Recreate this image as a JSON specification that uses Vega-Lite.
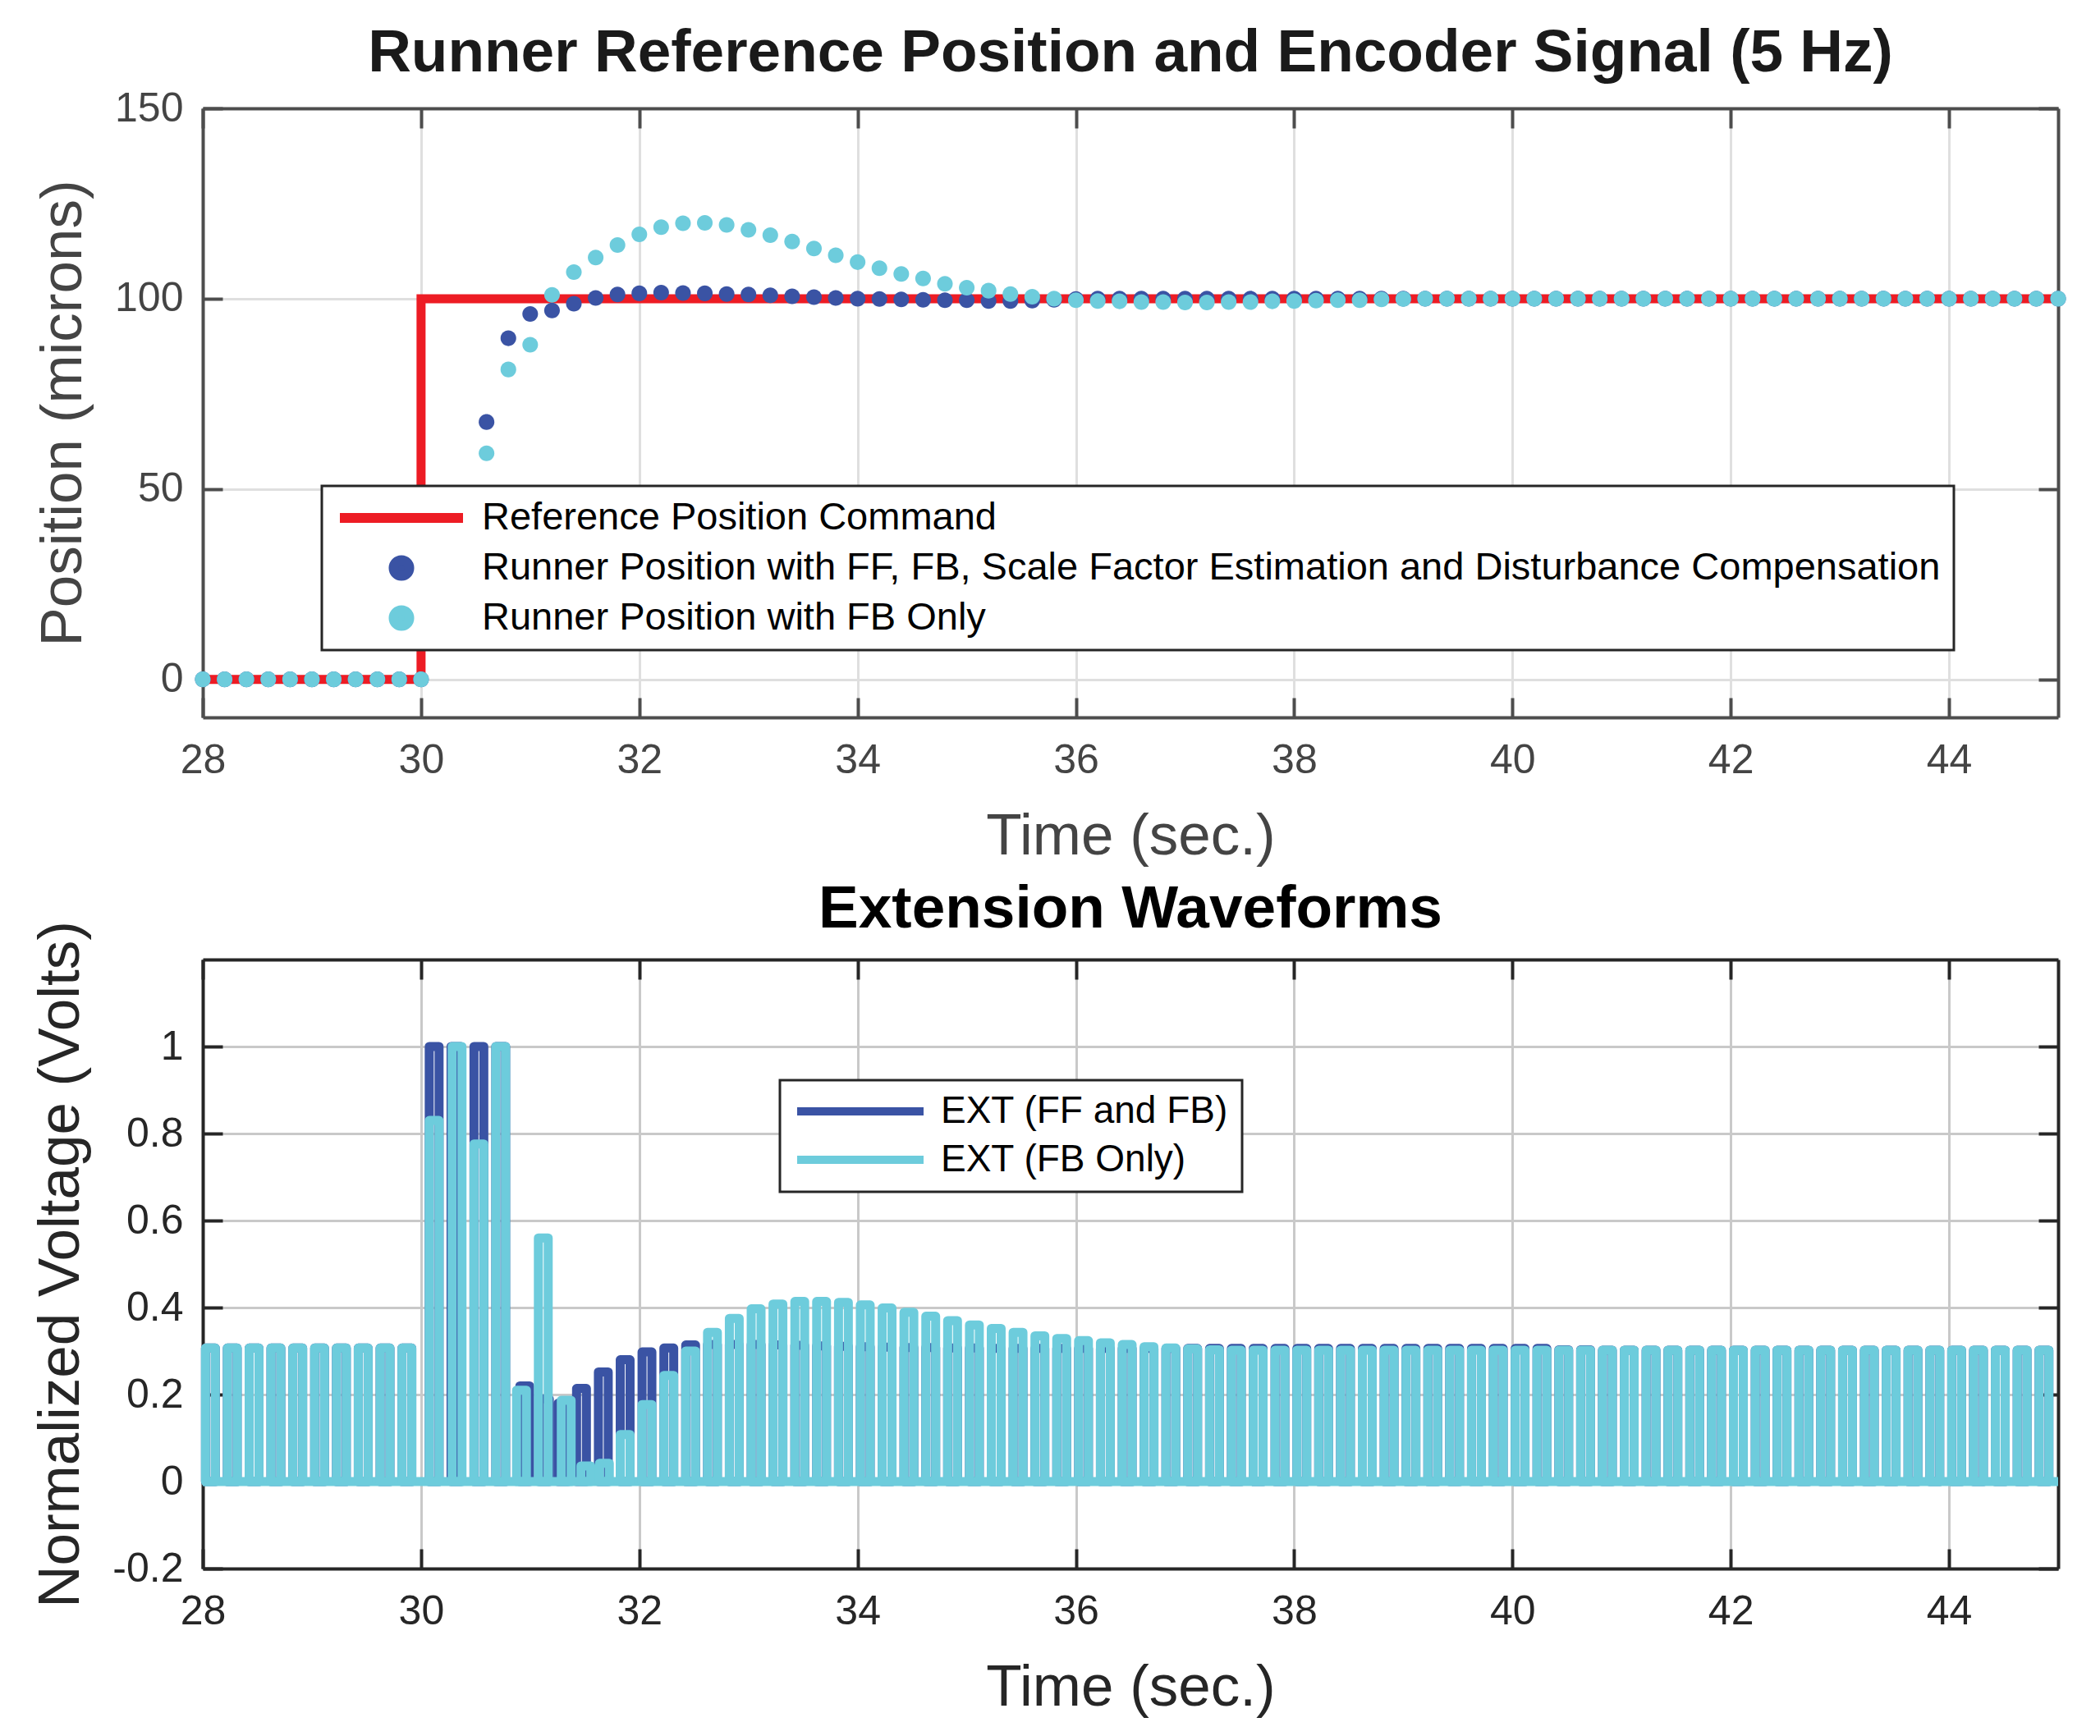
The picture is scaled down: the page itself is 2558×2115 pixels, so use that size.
{
  "$schema": "https://vega.github.io/schema/vega-lite/v6.json",
  "background": "white",
  "padding": {"left": 38, "top": 29, "right": 50, "bottom": 10},
  "spacing": 295,
  "bounds": "flush",
  "resolve": {"scale": {"color": "independent"}, "legend": {"color": "independent"}},
  "config": {
    "font": "Liberation Sans",
    "view": {"stroke": null},
    "axis": {"labelFont": "Liberation Sans", "titleFont": "Liberation Sans"},
    "legend": {"labelFont": "Liberation Sans"}
  },
  "vconcat": [
    {
      "width": 2260,
      "height": 742,
      "title": {"text": "Runner Reference Position and Encoder Signal (5 Hz)", "fontSize": 73, "font": "Liberation Sans", "fontWeight": "bold", "color": "#1A1A1A", "frame": "group", "offset": 5},
      "layer": [
        {
          "data": {"values": [
            {"t": 28, "s": "REF", "v": 0},
            {"t": 30, "s": "REF", "v": 100},
            {"t": 45, "s": "REF", "v": 100}
          ]},
          "mark": {"type": "line", "interpolate": "step-after", "strokeWidth": 11},
          "encoding": {
            "x": {"field": "t", "type": "quantitative", "scale": {"domain": [28, 45], "nice": false, "zero": false},
              "axis": {"orient": "bottom", "values": [28, 30, 32, 34, 36, 38, 40, 42, 44], "title": "Time (sec.)", "grid": true, "gridColor": "#DFDFDF", "gridWidth": 3, "domainColor": "#4D4D4D", "domainWidth": 4, "tickColor": "#4D4D4D", "tickWidth": 4, "tickSize": -24, "labelPadding": 51, "labelFlush": false, "labelFontSize": 50, "labelColor": "#444444", "titleFontSize": 71, "titleFontWeight": "normal", "titleColor": "#444444", "titlePadding": 33}},
            "y": {"field": "v", "type": "quantitative", "scale": {"domain": [-10, 150], "nice": false, "zero": false},
              "axis": {"orient": "left", "values": [0, 50, 100, 150], "title": "Position (microns)", "grid": true, "gridColor": "#DFDFDF", "gridWidth": 3, "domainColor": "#4D4D4D", "domainWidth": 4, "tickColor": "#4D4D4D", "tickWidth": 4, "tickSize": -24, "labelPadding": 48, "labelFontSize": 50, "labelColor": "#444444", "titleFontSize": 71, "titleFontWeight": "normal", "titleColor": "#444444", "titlePadding": 26}},
            "color": {"field": "s", "type": "nominal",
              "scale": {"domain": ["REF", "FF", "FB"], "range": ["#ED1C24", "#3A53A4", "#6DCCDC"]},
              "legend": {
                "orient": "none", "legendX": 145, "legendY": 460, "title": null,
                "labelExpr": "datum.label == 'REF' ? 'Reference Position Command' : datum.label == 'FF' ? 'Runner Position with FF, FB, Scale Factor Estimation and Disturbance Compensation' : 'Runner Position with FB Only'",
                "symbolType": "stroke", "symbolSize": 22500, "symbolStrokeWidth": 12,
                "padding": 16, "clipHeight": 46, "rowPadding": 14, "labelOffset": 17, "symbolOffset": 0,
                "labelFontSize": 47, "labelColor": "#000000", "labelLimit": 3000,
                "fillColor": "#FFFFFF", "strokeColor": "#262626",
                "encode": {
                  "legend": {"update": {"strokeWidth": {"value": 3}}},
                  "symbols": {"update": {
                    "shape": {"signal": "datum.value === 'REF' ? 'stroke' : 'M0.127,0A0.127,0.127,0,1,1,-0.127,0A0.127,0.127,0,1,1,0.127,0Z'"},
                    "stroke": {"signal": "datum.value === 'REF' ? '#ED1C24' : 'transparent'"},
                    "fill": {"signal": "datum.value === 'REF' ? 'transparent' : datum.value === 'FF' ? '#3A53A4' : '#6DCCDC'"},
                    "opacity": {"value": 1}
                  }}
                }
              }}
          }
        },
        {
          "data": {"values": [
            {"t": 28, "s": "FF", "v": 0}, {"t": 28.2, "s": "FF", "v": 0}, {"t": 28.4, "s": "FF", "v": 0}, {"t": 28.6, "s": "FF", "v": 0},
            {"t": 28.8, "s": "FF", "v": 0}, {"t": 29, "s": "FF", "v": 0}, {"t": 29.2, "s": "FF", "v": 0}, {"t": 29.4, "s": "FF", "v": 0},
            {"t": 29.6, "s": "FF", "v": 0}, {"t": 29.8, "s": "FF", "v": 0}, {"t": 30, "s": "FF", "v": 0},
            {"t": 30.2, "s": "FF", "v": 18}, {"t": 30.4, "s": "FF", "v": 45}, {"t": 30.6, "s": "FF", "v": 67.6}, {"t": 30.8, "s": "FF", "v": 89.6},
            {"t": 31, "s": "FF", "v": 96.0}, {"t": 31.2, "s": "FF", "v": 96.9}, {"t": 31.4, "s": "FF", "v": 98.7}, {"t": 31.6, "s": "FF", "v": 100.2},
            {"t": 31.8, "s": "FF", "v": 101.1}, {"t": 32, "s": "FF", "v": 101.4}, {"t": 32.2, "s": "FF", "v": 101.6}, {"t": 32.4, "s": "FF", "v": 101.5},
            {"t": 32.6, "s": "FF", "v": 101.4}, {"t": 32.8, "s": "FF", "v": 101.2}, {"t": 33, "s": "FF", "v": 101.1}, {"t": 33.2, "s": "FF", "v": 100.9},
            {"t": 33.4, "s": "FF", "v": 100.6}, {"t": 33.6, "s": "FF", "v": 100.4}, {"t": 33.8, "s": "FF", "v": 100.2}, {"t": 34, "s": "FF", "v": 100.0},
            {"t": 34.2, "s": "FF", "v": 99.9}, {"t": 34.4, "s": "FF", "v": 99.8}, {"t": 34.6, "s": "FF", "v": 99.7}, {"t": 34.8, "s": "FF", "v": 99.6},
            {"t": 35, "s": "FF", "v": 99.6}, {"t": 35.2, "s": "FF", "v": 99.4}, {"t": 35.4, "s": "FF", "v": 99.4}, {"t": 35.6, "s": "FF", "v": 99.5},
            {"t": 35.8, "s": "FF", "v": 99.7}, {"t": 36, "s": "FF", "v": 99.9},
            {"t": 36.2, "s": "FF", "v": 100}, {"t": 36.4, "s": "FF", "v": 100}, {"t": 36.6, "s": "FF", "v": 100}, {"t": 36.8, "s": "FF", "v": 100},
            {"t": 37, "s": "FF", "v": 100}, {"t": 37.2, "s": "FF", "v": 100}, {"t": 37.4, "s": "FF", "v": 100}, {"t": 37.6, "s": "FF", "v": 100},
            {"t": 37.8, "s": "FF", "v": 100}, {"t": 38, "s": "FF", "v": 100}, {"t": 38.2, "s": "FF", "v": 100}, {"t": 38.4, "s": "FF", "v": 100},
            {"t": 38.6, "s": "FF", "v": 100}, {"t": 38.8, "s": "FF", "v": 100}, {"t": 39, "s": "FF", "v": 100}, {"t": 39.2, "s": "FF", "v": 100},
            {"t": 39.4, "s": "FF", "v": 100}, {"t": 39.6, "s": "FF", "v": 100}, {"t": 39.8, "s": "FF", "v": 100}, {"t": 40, "s": "FF", "v": 100},
            {"t": 40.2, "s": "FF", "v": 100}, {"t": 40.4, "s": "FF", "v": 100}, {"t": 40.6, "s": "FF", "v": 100}, {"t": 40.8, "s": "FF", "v": 100},
            {"t": 41, "s": "FF", "v": 100}, {"t": 41.2, "s": "FF", "v": 100}, {"t": 41.4, "s": "FF", "v": 100}, {"t": 41.6, "s": "FF", "v": 100},
            {"t": 41.8, "s": "FF", "v": 100}, {"t": 42, "s": "FF", "v": 100}, {"t": 42.2, "s": "FF", "v": 100}, {"t": 42.4, "s": "FF", "v": 100},
            {"t": 42.6, "s": "FF", "v": 100}, {"t": 42.8, "s": "FF", "v": 100}, {"t": 43, "s": "FF", "v": 100}, {"t": 43.2, "s": "FF", "v": 100},
            {"t": 43.4, "s": "FF", "v": 100}, {"t": 43.6, "s": "FF", "v": 100}, {"t": 43.8, "s": "FF", "v": 100}, {"t": 44, "s": "FF", "v": 100},
            {"t": 44.2, "s": "FF", "v": 100}, {"t": 44.4, "s": "FF", "v": 100}, {"t": 44.6, "s": "FF", "v": 100}, {"t": 44.8, "s": "FF", "v": 100},
            {"t": 45, "s": "FF", "v": 100},
            {"t": 28, "s": "FB", "v": 0}, {"t": 28.2, "s": "FB", "v": 0}, {"t": 28.4, "s": "FB", "v": 0}, {"t": 28.6, "s": "FB", "v": 0},
            {"t": 28.8, "s": "FB", "v": 0}, {"t": 29, "s": "FB", "v": 0}, {"t": 29.2, "s": "FB", "v": 0}, {"t": 29.4, "s": "FB", "v": 0},
            {"t": 29.6, "s": "FB", "v": 0}, {"t": 29.8, "s": "FB", "v": 0}, {"t": 30, "s": "FB", "v": 0},
            {"t": 30.2, "s": "FB", "v": 15}, {"t": 30.4, "s": "FB", "v": 38}, {"t": 30.6, "s": "FB", "v": 59.4}, {"t": 30.8, "s": "FB", "v": 81.4},
            {"t": 31, "s": "FB", "v": 87.9}, {"t": 31.2, "s": "FB", "v": 101.0}, {"t": 31.4, "s": "FB", "v": 107.0}, {"t": 31.6, "s": "FB", "v": 110.8},
            {"t": 31.8, "s": "FB", "v": 114.1}, {"t": 32, "s": "FB", "v": 116.9}, {"t": 32.2, "s": "FB", "v": 118.8}, {"t": 32.4, "s": "FB", "v": 119.8},
            {"t": 32.6, "s": "FB", "v": 119.9}, {"t": 32.8, "s": "FB", "v": 119.4}, {"t": 33, "s": "FB", "v": 118.1}, {"t": 33.2, "s": "FB", "v": 116.7},
            {"t": 33.4, "s": "FB", "v": 115.0}, {"t": 33.6, "s": "FB", "v": 113.2}, {"t": 33.8, "s": "FB", "v": 111.4}, {"t": 34, "s": "FB", "v": 109.6},
            {"t": 34.2, "s": "FB", "v": 108.0}, {"t": 34.4, "s": "FB", "v": 106.5}, {"t": 34.6, "s": "FB", "v": 105.3}, {"t": 34.8, "s": "FB", "v": 103.9},
            {"t": 35, "s": "FB", "v": 102.9}, {"t": 35.2, "s": "FB", "v": 102.1}, {"t": 35.4, "s": "FB", "v": 101.2}, {"t": 35.6, "s": "FB", "v": 100.5},
            {"t": 35.8, "s": "FB", "v": 100.0}, {"t": 36, "s": "FB", "v": 99.6},
            {"t": 36.2, "s": "FB", "v": 99.4}, {"t": 36.4, "s": "FB", "v": 99.3}, {"t": 36.6, "s": "FB", "v": 99.1}, {"t": 36.8, "s": "FB", "v": 99.1},
            {"t": 37, "s": "FB", "v": 99.0}, {"t": 37.2, "s": "FB", "v": 99.0}, {"t": 37.4, "s": "FB", "v": 99.1}, {"t": 37.6, "s": "FB", "v": 99.1},
            {"t": 37.8, "s": "FB", "v": 99.3}, {"t": 38, "s": "FB", "v": 99.4}, {"t": 38.2, "s": "FB", "v": 99.5}, {"t": 38.4, "s": "FB", "v": 99.6},
            {"t": 38.6, "s": "FB", "v": 99.6}, {"t": 38.8, "s": "FB", "v": 99.8}, {"t": 39, "s": "FB", "v": 99.9},
            {"t": 39.2, "s": "FB", "v": 100}, {"t": 39.4, "s": "FB", "v": 100}, {"t": 39.6, "s": "FB", "v": 100}, {"t": 39.8, "s": "FB", "v": 100},
            {"t": 40, "s": "FB", "v": 100}, {"t": 40.2, "s": "FB", "v": 100}, {"t": 40.4, "s": "FB", "v": 100}, {"t": 40.6, "s": "FB", "v": 100},
            {"t": 40.8, "s": "FB", "v": 100}, {"t": 41, "s": "FB", "v": 100}, {"t": 41.2, "s": "FB", "v": 100}, {"t": 41.4, "s": "FB", "v": 100},
            {"t": 41.6, "s": "FB", "v": 100}, {"t": 41.8, "s": "FB", "v": 100}, {"t": 42, "s": "FB", "v": 100}, {"t": 42.2, "s": "FB", "v": 100},
            {"t": 42.4, "s": "FB", "v": 100}, {"t": 42.6, "s": "FB", "v": 100}, {"t": 42.8, "s": "FB", "v": 100}, {"t": 43, "s": "FB", "v": 100},
            {"t": 43.2, "s": "FB", "v": 100}, {"t": 43.4, "s": "FB", "v": 100}, {"t": 43.6, "s": "FB", "v": 100}, {"t": 43.8, "s": "FB", "v": 100},
            {"t": 44, "s": "FB", "v": 100}, {"t": 44.2, "s": "FB", "v": 100}, {"t": 44.4, "s": "FB", "v": 100}, {"t": 44.6, "s": "FB", "v": 100},
            {"t": 44.8, "s": "FB", "v": 100}, {"t": 45, "s": "FB", "v": 100}
          ]},
          "mark": {"type": "point", "shape": "M0.127,0A0.127,0.127,0,1,1,-0.127,0A0.127,0.127,0,1,1,0.127,0Z", "size": 22500, "filled": true, "strokeWidth": 0, "opacity": 1},
          "encoding": {
            "x": {"field": "t", "type": "quantitative",
              "axis": {"orient": "top", "values": [28, 30, 32, 34, 36, 38, 40, 42, 44], "labels": false, "title": null, "grid": false, "domainColor": "#4D4D4D", "domainWidth": 4, "tickColor": "#4D4D4D", "tickWidth": 4, "tickSize": -24}},
            "y": {"field": "v", "type": "quantitative",
              "axis": {"orient": "right", "values": [0, 50, 100, 150], "labels": false, "title": null, "grid": false, "domainColor": "#4D4D4D", "domainWidth": 4, "tickColor": "#4D4D4D", "tickWidth": 4, "tickSize": -24}},
            "color": {"field": "s", "type": "nominal"}
          }
        }
      ]
    },
    {
      "width": 2260,
      "height": 742,
      "title": {"text": "Extension Waveforms", "fontSize": 73, "font": "Liberation Sans", "fontWeight": "bold", "color": "#000000", "frame": "group", "offset": -23},
      "data": {"values": [
        {"s": "FF", "t0": 28.025, "t1": 28.115, "v": 0.307}, {"s": "FF", "t0": 28.225, "t1": 28.315, "v": 0.307},
        {"s": "FF", "t0": 28.425, "t1": 28.515, "v": 0.307}, {"s": "FF", "t0": 28.625, "t1": 28.715, "v": 0.307},
        {"s": "FF", "t0": 28.825, "t1": 28.915, "v": 0.307}, {"s": "FF", "t0": 29.025, "t1": 29.115, "v": 0.307},
        {"s": "FF", "t0": 29.225, "t1": 29.315, "v": 0.307}, {"s": "FF", "t0": 29.425, "t1": 29.515, "v": 0.307},
        {"s": "FF", "t0": 29.625, "t1": 29.715, "v": 0.307}, {"s": "FF", "t0": 29.825, "t1": 29.915, "v": 0.307},
        {"s": "FF", "t0": 30.075, "t1": 30.165, "v": 1.0}, {"s": "FF", "t0": 30.275, "t1": 30.365, "v": 1.0},
        {"s": "FF", "t0": 30.485, "t1": 30.575, "v": 1.0}, {"s": "FF", "t0": 30.685, "t1": 30.775, "v": 1.0},
        {"s": "FF", "t0": 30.905, "t1": 30.995, "v": 0.22}, {"s": "FF", "t0": 31.085, "t1": 31.175, "v": 0.19},
        {"s": "FF", "t0": 31.255, "t1": 31.345, "v": 0.18}, {"s": "FF", "t0": 31.425, "t1": 31.515, "v": 0.214},
        {"s": "FF", "t0": 31.625, "t1": 31.715, "v": 0.252}, {"s": "FF", "t0": 31.825, "t1": 31.915, "v": 0.28},
        {"s": "FF", "t0": 32.025, "t1": 32.115, "v": 0.298}, {"s": "FF", "t0": 32.225, "t1": 32.315, "v": 0.307},
        {"s": "FF", "t0": 32.425, "t1": 32.515, "v": 0.314}, {"s": "FF", "t0": 32.625, "t1": 32.715, "v": 0.315},
        {"s": "FF", "t0": 32.825, "t1": 32.915, "v": 0.315}, {"s": "FF", "t0": 33.025, "t1": 33.115, "v": 0.315},
        {"s": "FF", "t0": 33.225, "t1": 33.315, "v": 0.314}, {"s": "FF", "t0": 33.425, "t1": 33.515, "v": 0.313},
        {"s": "FF", "t0": 33.625, "t1": 33.715, "v": 0.312}, {"s": "FF", "t0": 33.825, "t1": 33.915, "v": 0.311},
        {"s": "FF", "t0": 34.025, "t1": 34.115, "v": 0.31}, {"s": "FF", "t0": 34.225, "t1": 34.315, "v": 0.309},
        {"s": "FF", "t0": 34.425, "t1": 34.515, "v": 0.308}, {"s": "FF", "t0": 34.625, "t1": 34.715, "v": 0.308},
        {"s": "FF", "t0": 34.825, "t1": 34.915, "v": 0.307}, {"s": "FF", "t0": 35.025, "t1": 35.115, "v": 0.307},
        {"s": "FF", "t0": 35.225, "t1": 35.315, "v": 0.306}, {"s": "FF", "t0": 35.425, "t1": 35.515, "v": 0.306},
        {"s": "FF", "t0": 35.625, "t1": 35.715, "v": 0.306}, {"s": "FF", "t0": 35.825, "t1": 35.915, "v": 0.306},
        {"s": "FF", "t0": 36.025, "t1": 36.115, "v": 0.306}, {"s": "FF", "t0": 36.225, "t1": 36.315, "v": 0.306},
        {"s": "FF", "t0": 36.425, "t1": 36.515, "v": 0.306}, {"s": "FF", "t0": 36.625, "t1": 36.715, "v": 0.306},
        {"s": "FF", "t0": 36.825, "t1": 36.915, "v": 0.306}, {"s": "FF", "t0": 37.025, "t1": 37.115, "v": 0.306},
        {"s": "FF", "t0": 37.225, "t1": 37.315, "v": 0.306}, {"s": "FF", "t0": 37.425, "t1": 37.515, "v": 0.306},
        {"s": "FF", "t0": 37.625, "t1": 37.715, "v": 0.306}, {"s": "FF", "t0": 37.825, "t1": 37.915, "v": 0.306},
        {"s": "FF", "t0": 38.025, "t1": 38.115, "v": 0.306}, {"s": "FF", "t0": 38.225, "t1": 38.315, "v": 0.306},
        {"s": "FF", "t0": 38.425, "t1": 38.515, "v": 0.306}, {"s": "FF", "t0": 38.625, "t1": 38.715, "v": 0.306},
        {"s": "FF", "t0": 38.825, "t1": 38.915, "v": 0.306}, {"s": "FF", "t0": 39.025, "t1": 39.115, "v": 0.306},
        {"s": "FF", "t0": 39.225, "t1": 39.315, "v": 0.306}, {"s": "FF", "t0": 39.425, "t1": 39.515, "v": 0.306},
        {"s": "FF", "t0": 39.625, "t1": 39.715, "v": 0.306}, {"s": "FF", "t0": 39.825, "t1": 39.915, "v": 0.306},
        {"s": "FF", "t0": 40.025, "t1": 40.115, "v": 0.306}, {"s": "FF", "t0": 40.225, "t1": 40.315, "v": 0.306},
        {"s": "FF", "t0": 40.425, "t1": 40.515, "v": 0.303}, {"s": "FF", "t0": 40.625, "t1": 40.715, "v": 0.303},
        {"s": "FF", "t0": 40.825, "t1": 40.915, "v": 0.302}, {"s": "FF", "t0": 41.025, "t1": 41.115, "v": 0.302},
        {"s": "FF", "t0": 41.225, "t1": 41.315, "v": 0.302}, {"s": "FF", "t0": 41.425, "t1": 41.515, "v": 0.302},
        {"s": "FF", "t0": 41.625, "t1": 41.715, "v": 0.302}, {"s": "FF", "t0": 41.825, "t1": 41.915, "v": 0.302},
        {"s": "FF", "t0": 42.025, "t1": 42.115, "v": 0.302}, {"s": "FF", "t0": 42.225, "t1": 42.315, "v": 0.302},
        {"s": "FF", "t0": 42.425, "t1": 42.515, "v": 0.302}, {"s": "FF", "t0": 42.625, "t1": 42.715, "v": 0.302},
        {"s": "FF", "t0": 42.825, "t1": 42.915, "v": 0.302}, {"s": "FF", "t0": 43.025, "t1": 43.115, "v": 0.302},
        {"s": "FF", "t0": 43.225, "t1": 43.315, "v": 0.302}, {"s": "FF", "t0": 43.425, "t1": 43.515, "v": 0.302},
        {"s": "FF", "t0": 43.625, "t1": 43.715, "v": 0.302}, {"s": "FF", "t0": 43.825, "t1": 43.915, "v": 0.302},
        {"s": "FF", "t0": 44.025, "t1": 44.115, "v": 0.302}, {"s": "FF", "t0": 44.225, "t1": 44.315, "v": 0.302},
        {"s": "FF", "t0": 44.425, "t1": 44.515, "v": 0.302}, {"s": "FF", "t0": 44.625, "t1": 44.715, "v": 0.302},
        {"s": "FF", "t0": 44.825, "t1": 44.915, "v": 0.302},
        {"s": "FB", "t0": 28.025, "t1": 28.115, "v": 0.307}, {"s": "FB", "t0": 28.225, "t1": 28.315, "v": 0.307},
        {"s": "FB", "t0": 28.425, "t1": 28.515, "v": 0.307}, {"s": "FB", "t0": 28.625, "t1": 28.715, "v": 0.307},
        {"s": "FB", "t0": 28.825, "t1": 28.915, "v": 0.307}, {"s": "FB", "t0": 29.025, "t1": 29.115, "v": 0.307},
        {"s": "FB", "t0": 29.225, "t1": 29.315, "v": 0.307}, {"s": "FB", "t0": 29.425, "t1": 29.515, "v": 0.307},
        {"s": "FB", "t0": 29.625, "t1": 29.715, "v": 0.307}, {"s": "FB", "t0": 29.825, "t1": 29.915, "v": 0.307},
        {"s": "FB", "t0": 30.075, "t1": 30.165, "v": 0.83}, {"s": "FB", "t0": 30.285, "t1": 30.375, "v": 1.0},
        {"s": "FB", "t0": 30.485, "t1": 30.575, "v": 0.776}, {"s": "FB", "t0": 30.685, "t1": 30.775, "v": 1.0},
        {"s": "FB", "t0": 30.875, "t1": 30.965, "v": 0.21}, {"s": "FB", "t0": 31.075, "t1": 31.165, "v": 0.56},
        {"s": "FB", "t0": 31.285, "t1": 31.375, "v": 0.187}, {"s": "FB", "t0": 31.465, "t1": 31.555, "v": 0.036},
        {"s": "FB", "t0": 31.635, "t1": 31.725, "v": 0.042}, {"s": "FB", "t0": 31.825, "t1": 31.915, "v": 0.108},
        {"s": "FB", "t0": 32.025, "t1": 32.115, "v": 0.177}, {"s": "FB", "t0": 32.225, "t1": 32.315, "v": 0.244},
        {"s": "FB", "t0": 32.425, "t1": 32.515, "v": 0.30}, {"s": "FB", "t0": 32.625, "t1": 32.715, "v": 0.343},
        {"s": "FB", "t0": 32.825, "t1": 32.915, "v": 0.375}, {"s": "FB", "t0": 33.025, "t1": 33.115, "v": 0.397},
        {"s": "FB", "t0": 33.225, "t1": 33.315, "v": 0.408}, {"s": "FB", "t0": 33.425, "t1": 33.515, "v": 0.414},
        {"s": "FB", "t0": 33.625, "t1": 33.715, "v": 0.414}, {"s": "FB", "t0": 33.825, "t1": 33.915, "v": 0.412},
        {"s": "FB", "t0": 34.025, "t1": 34.115, "v": 0.406}, {"s": "FB", "t0": 34.225, "t1": 34.315, "v": 0.399},
        {"s": "FB", "t0": 34.425, "t1": 34.515, "v": 0.389}, {"s": "FB", "t0": 34.625, "t1": 34.715, "v": 0.38},
        {"s": "FB", "t0": 34.825, "t1": 34.915, "v": 0.37}, {"s": "FB", "t0": 35.025, "t1": 35.115, "v": 0.36},
        {"s": "FB", "t0": 35.225, "t1": 35.315, "v": 0.352}, {"s": "FB", "t0": 35.425, "t1": 35.515, "v": 0.343},
        {"s": "FB", "t0": 35.625, "t1": 35.715, "v": 0.335}, {"s": "FB", "t0": 35.825, "t1": 35.915, "v": 0.329},
        {"s": "FB", "t0": 36.025, "t1": 36.115, "v": 0.324}, {"s": "FB", "t0": 36.225, "t1": 36.315, "v": 0.319},
        {"s": "FB", "t0": 36.425, "t1": 36.515, "v": 0.315}, {"s": "FB", "t0": 36.625, "t1": 36.715, "v": 0.31},
        {"s": "FB", "t0": 36.825, "t1": 36.915, "v": 0.307}, {"s": "FB", "t0": 37.025, "t1": 37.115, "v": 0.305},
        {"s": "FB", "t0": 37.225, "t1": 37.315, "v": 0.303}, {"s": "FB", "t0": 37.425, "t1": 37.515, "v": 0.302},
        {"s": "FB", "t0": 37.625, "t1": 37.715, "v": 0.302}, {"s": "FB", "t0": 37.825, "t1": 37.915, "v": 0.302},
        {"s": "FB", "t0": 38.025, "t1": 38.115, "v": 0.302}, {"s": "FB", "t0": 38.225, "t1": 38.315, "v": 0.302},
        {"s": "FB", "t0": 38.425, "t1": 38.515, "v": 0.302}, {"s": "FB", "t0": 38.625, "t1": 38.715, "v": 0.302},
        {"s": "FB", "t0": 38.825, "t1": 38.915, "v": 0.302}, {"s": "FB", "t0": 39.025, "t1": 39.115, "v": 0.302},
        {"s": "FB", "t0": 39.225, "t1": 39.315, "v": 0.302}, {"s": "FB", "t0": 39.425, "t1": 39.515, "v": 0.302},
        {"s": "FB", "t0": 39.625, "t1": 39.715, "v": 0.302}, {"s": "FB", "t0": 39.825, "t1": 39.915, "v": 0.302},
        {"s": "FB", "t0": 40.025, "t1": 40.115, "v": 0.302}, {"s": "FB", "t0": 40.225, "t1": 40.315, "v": 0.302},
        {"s": "FB", "t0": 40.425, "t1": 40.515, "v": 0.302}, {"s": "FB", "t0": 40.625, "t1": 40.715, "v": 0.302},
        {"s": "FB", "t0": 40.825, "t1": 40.915, "v": 0.302}, {"s": "FB", "t0": 41.025, "t1": 41.115, "v": 0.302},
        {"s": "FB", "t0": 41.225, "t1": 41.315, "v": 0.302}, {"s": "FB", "t0": 41.425, "t1": 41.515, "v": 0.302},
        {"s": "FB", "t0": 41.625, "t1": 41.715, "v": 0.302}, {"s": "FB", "t0": 41.825, "t1": 41.915, "v": 0.302},
        {"s": "FB", "t0": 42.025, "t1": 42.115, "v": 0.302}, {"s": "FB", "t0": 42.225, "t1": 42.315, "v": 0.302},
        {"s": "FB", "t0": 42.425, "t1": 42.515, "v": 0.302}, {"s": "FB", "t0": 42.625, "t1": 42.715, "v": 0.302},
        {"s": "FB", "t0": 42.825, "t1": 42.915, "v": 0.302}, {"s": "FB", "t0": 43.025, "t1": 43.115, "v": 0.302},
        {"s": "FB", "t0": 43.225, "t1": 43.315, "v": 0.302}, {"s": "FB", "t0": 43.425, "t1": 43.515, "v": 0.302},
        {"s": "FB", "t0": 43.625, "t1": 43.715, "v": 0.302}, {"s": "FB", "t0": 43.825, "t1": 43.915, "v": 0.302},
        {"s": "FB", "t0": 44.025, "t1": 44.115, "v": 0.302}, {"s": "FB", "t0": 44.225, "t1": 44.315, "v": 0.302},
        {"s": "FB", "t0": 44.425, "t1": 44.515, "v": 0.302}, {"s": "FB", "t0": 44.625, "t1": 44.715, "v": 0.302},
        {"s": "FB", "t0": 44.825, "t1": 44.915, "v": 0.302}
      ]},
      "layer": [
        {
          "transform": [{"filter": "datum.s == 'FF'"}],
          "mark": {"type": "rect", "filled": false, "strokeWidth": 11, "strokeJoin": "round"},
          "encoding": {
            "x": {"field": "t0", "type": "quantitative", "scale": {"domain": [28, 45], "nice": false, "zero": false},
              "axis": {"orient": "bottom", "values": [28, 30, 32, 34, 36, 38, 40, 42, 44], "title": "Time (sec.)", "grid": true, "gridColor": "#C9C9C9", "gridWidth": 3, "domainColor": "#262626", "domainWidth": 4, "tickColor": "#262626", "tickWidth": 4, "tickSize": -24, "labelPadding": 51, "labelFlush": false, "labelFontSize": 50, "labelColor": "#262626", "titleFontSize": 71, "titleFontWeight": "normal", "titleColor": "#262626", "titlePadding": 33}},
            "x2": {"field": "t1"},
            "y": {"field": "v", "type": "quantitative", "scale": {"domain": [-0.2, 1.2], "nice": false, "zero": false},
              "axis": {"orient": "left", "values": [-0.2, 0, 0.2, 0.4, 0.6, 0.8, 1], "labelExpr": "'' + datum.value", "title": "Normalized Voltage (Volts)", "grid": true, "gridColor": "#C9C9C9", "gridWidth": 3, "domainColor": "#262626", "domainWidth": 4, "tickColor": "#262626", "tickWidth": 4, "tickSize": -24, "labelPadding": 48, "labelFontSize": 50, "labelColor": "#262626", "titleFontSize": 71, "titleFontWeight": "normal", "titleColor": "#262626", "titlePadding": 26}},
            "y2": {"datum": 0},
            "color": {"field": "s", "type": "nominal",
              "scale": {"domain": ["FF", "FB"], "range": ["#3A53A4", "#6DCCDC"]},
              "legend": {
                "orient": "none", "legendX": 703, "legendY": 147, "title": null,
                "labelExpr": "datum.label == 'FF' ? 'EXT (FF and FB)' : 'EXT (FB Only)'",
                "symbolType": "stroke", "symbolSize": 23716, "symbolStrokeWidth": 10,
                "padding": 16, "clipHeight": 44, "rowPadding": 13, "labelOffset": 16, "symbolOffset": 0,
                "labelFontSize": 46, "labelColor": "#000000", "labelLimit": 3000,
                "fillColor": "#FFFFFF", "strokeColor": "#262626",
                "encode": {
                  "legend": {"update": {"strokeWidth": {"value": 3}}},
                  "symbols": {"update": {
                    "stroke": {"signal": "datum.value === 'FF' ? '#3A53A4' : '#6DCCDC'"},
                    "fill": {"value": "transparent"},
                    "opacity": {"value": 1}
                  }}
                }
              }}
          }
        },
        {
          "data": {"values": [{}]},
          "mark": {"type": "rule", "strokeWidth": 11, "color": "#6DCCDC"},
          "encoding": {
            "x": {"datum": 28, "axis": null},
            "x2": {"datum": 45},
            "y": {"datum": 0, "axis": null}
          }
        },
        {
          "transform": [{"filter": "datum.s == 'FB'"}],
          "mark": {"type": "rect", "filled": false, "strokeWidth": 11, "strokeJoin": "round"},
          "encoding": {
            "x": {"field": "t0", "type": "quantitative",
              "axis": {"orient": "top", "values": [28, 30, 32, 34, 36, 38, 40, 42, 44], "labels": false, "title": null, "grid": false, "domainColor": "#262626", "domainWidth": 4, "tickColor": "#262626", "tickWidth": 4, "tickSize": -24}},
            "x2": {"field": "t1"},
            "y": {"field": "v", "type": "quantitative",
              "axis": {"orient": "right", "values": [-0.2, 0, 0.2, 0.4, 0.6, 0.8, 1], "labels": false, "title": null, "grid": false, "domainColor": "#262626", "domainWidth": 4, "tickColor": "#262626", "tickWidth": 4, "tickSize": -24}},
            "y2": {"datum": 0},
            "color": {"field": "s", "type": "nominal"}
          }
        }
      ]
    }
  ]
}
